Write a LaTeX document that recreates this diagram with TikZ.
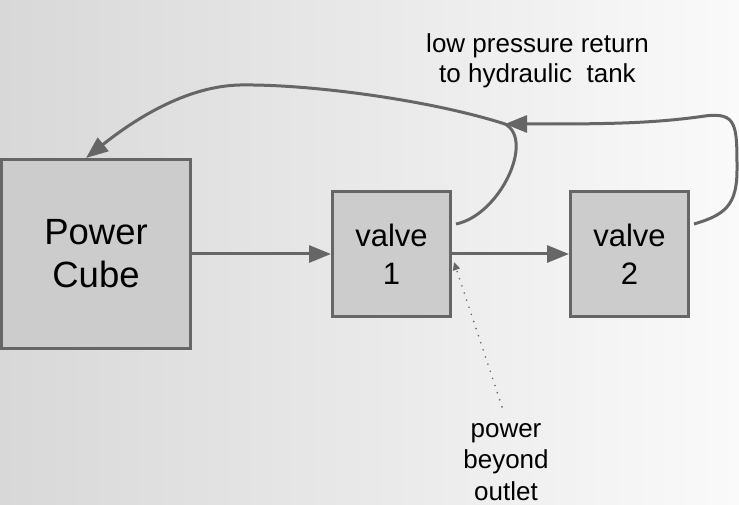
\documentclass[tikz,border=0pt]{standalone}
\usepackage{fontspec}
\setmainfont{Liberation Sans}
\usetikzlibrary{arrows.meta, positioning, calc}
\usepackage{xcolor}
\definecolor{linegray}{HTML}{666666}
\definecolor{boxgray}{HTML}{CCCCCC}
\definecolor{bgleft}{HTML}{D8D8D8}
\definecolor{bgright}{HTML}{FAFAFA}
\tikzset{
    unit/.style = {rectangle, minimum width=189pt, minimum height=189pt, inner sep=0pt, align=center, draw=linegray, line width=3pt, fill=boxgray, font=\fontsize{36.5pt}{43pt}\selectfont},
    valvebox/.style = {rectangle, minimum width=118pt, minimum height=124pt, inner sep=0pt, align=center, draw=linegray, line width=3pt, fill=boxgray, font=\fontsize{31pt}{38pt}\selectfont},
    note/.style = {align=center, inner sep=0pt, font=\fontsize{26pt}{30pt}\selectfont},
    pipe/.style = {line width=3pt, draw=linegray, -{Triangle[length=22pt,width=17pt]}},
    dotline/.style = {line width=1.8pt, draw=linegray, line cap=round, dash pattern=on 0pt off 7.5pt, -{Triangle[length=8pt,width=7pt]}}
}

\begin{document}
\begin{tikzpicture}[x=1pt, y=-1pt]
\useasboundingbox (0,0) rectangle (739,505);
\shade [left color=bgleft, right color=bgright] (0,0) rectangle (739,505);

\node (pc) [unit] at (96,254) {Power\\Cube};
\node (valve1) [valvebox, right=139pt of pc] {valve\\1};
\node (valve2) [valvebox, right=117pt of valve1] {valve\\2};
\node (retnote) [note] at (537.5,60.3) {low pressure return\\to hydraulic~ tank};
\node (pbo) [note, font=\fontsize{26pt}{31.5pt}\selectfont] at (506,461.7) {power\\beyond\\outlet};
\coordinate (ret) at (505,124);

\draw [pipe] (pc.east) -- (pc.east -| valve1.west);
\draw [pipe] (valve1.east) -- (valve2.west);
\draw [pipe] ([xshift=4pt,yshift=30pt]valve1.east) .. controls (500,215) and (535,140) .. (ret)
    .. controls (430,100) and (310,84) .. (240,85)
    .. controls (190,86) and (140,115) .. ([xshift=-10pt]pc.north);
\draw [pipe] ([xshift=4pt,yshift=30pt]valve2.east) .. controls (725,215) and (737,205) .. (737,170)
    .. controls (737,125) and (737,112) .. (705,116)
    .. controls (650,124) and (600,124) .. (ret);
\draw [dotline] ($(pbo.north)+(-4,-16)$) -- ([xshift=2pt,yshift=-8pt]valve1.east);
\end{tikzpicture}
\end{document}
